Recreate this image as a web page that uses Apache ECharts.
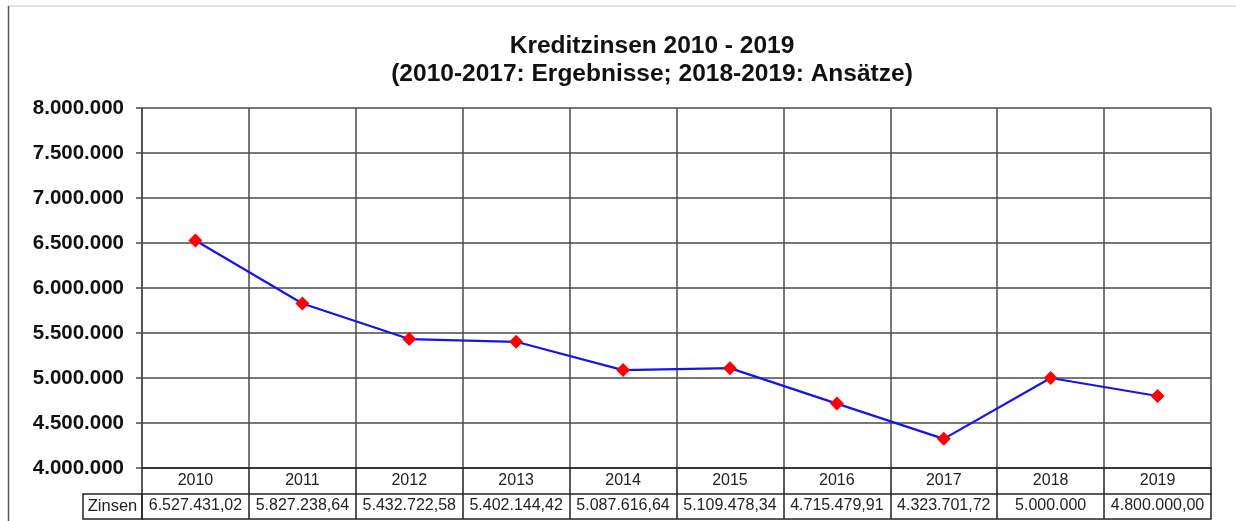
<!DOCTYPE html>
<html>
<head>
<meta charset="utf-8">
<script src="https://cdn.jsdelivr.net/npm/echarts@6/dist/echarts.min.js"></script>
<style>
  html, body { margin: 0; background: #fff; }
  #myLineChart { width: 1236px; height: 521px; }
</style>
</head>
<body>
<div id="myLineChart"></div>
<script>
const years = ['2010', '2011', '2012', '2013', '2014', '2015', '2016', '2017', '2018', '2019'];
const zinsen = [6527431.02, 5827238.64, 5432722.58, 5402144.42, 5087616.64, 5109478.34, 4715479.91, 4323701.72, 5000000, 4800000.00];
const zinsenLabels = ['6.527.431,02', '5.827.238,64', '5.432.722,58', '5.402.144,42', '5.087.616,64',
  '5.109.478,34', '4.715.479,91', '4.323.701,72', '5.000.000', '4.800.000,00'];
const rowName = 'Zinsen';

const font = 'Liberation Sans, Arial, sans-serif';
const gridColor = '#4a4a4a';

function dots(v) {
  return String(Math.round(v)).replace(/\B(?=(\d{3})+(?!\d))/g, '.');
}

let option = {
  animation: false,
  backgroundColor: '#fff',
  textStyle: { fontFamily: font },
  title: {
    text: 'Kreditzinsen 2010 - 2019\n(2010-2017: Ergebnisse; 2018-2019: Ansätze)',
    left: 647,
    top: 27,
    textAlign: 'center',
    textStyle: { fontFamily: font, fontSize: 24.5, fontWeight: 'bold', color: '#111', lineHeight: 28 }
  },
  grid: { left: 142, right: 25, top: 108, bottom: 53, containLabel: false },
  xAxis: [
    {
      type: 'category',
      data: years,
      boundaryGap: true,
      position: 'bottom',
      axisLine: { show: true, lineStyle: { color: '#222', width: 1.5 } },
      axisTick: { show: true, interval: 0, length: 51, lineStyle: { color: '#222', width: 1.5 } },
      splitLine: { show: true, interval: 0, lineStyle: { color: gridColor, width: 1.5 } },
      axisLabel: { interval: 0, margin: 5, fontSize: 16, color: '#222', fontFamily: font }
    },
    {
      type: 'category',
      data: years,
      position: 'bottom',
      offset: 26,
      axisLine: { show: true, lineStyle: { color: '#222', width: 1.5 } },
      axisTick: { show: false },
      axisLabel: {
        interval: 0, margin: 4, fontSize: 16, color: '#222', fontFamily: font,
        formatter: (v, i) => zinsenLabels[i]
      }
    },
    {
      type: 'category',
      data: years,
      position: 'bottom',
      offset: 51,
      axisLine: { show: true, lineStyle: { color: '#222', width: 1.5 } },
      axisTick: { show: false },
      axisLabel: { show: false }
    }
  ],
  yAxis: {
    type: 'value',
    min: 4000000,
    max: 8000000,
    interval: 500000,
    axisLine: { show: true, lineStyle: { color: gridColor, width: 1.5 } },
    axisTick: { show: true, length: 6, lineStyle: { color: gridColor, width: 1.5 } },
    splitLine: { show: true, lineStyle: { color: gridColor, width: 1.5 } },
    axisLabel: {
      margin: 18, fontSize: 20.5, fontWeight: 'bold', color: '#111', fontFamily: font,
      formatter: v => dots(v)
    }
  },
  series: [
    {
      name: rowName,
      type: 'line',
      data: zinsen,
      symbol: 'diamond',
      symbolSize: [14, 14],
      lineStyle: { color: '#1414ee', width: 2.2 },
      itemStyle: { color: '#ff0000' }
    }
  ],
  graphic: [
    { type: 'line', shape: { x1: 8, y1: 6, x2: 1236, y2: 6 }, style: { stroke: '#d8d8d8', lineWidth: 1.5 } },
    { type: 'line', shape: { x1: 8.5, y1: 6, x2: 8.5, y2: 521 }, style: { stroke: '#555', lineWidth: 1.5 } },
    {
      type: 'rect',
      shape: { x: 83, y: 494, width: 59, height: 25 },
      style: { fill: '#fff', stroke: '#222', lineWidth: 1.5 }
    },
    {
      type: 'text',
      x: 112.5, y: 506.5,
      style: { text: rowName, fontSize: 16.5, fontFamily: font, fill: '#222', align: 'center', verticalAlign: 'middle' }
    }
  ]
};

let myChart = echarts.init(document.querySelector('#myLineChart'));
myChart.setOption(option);
</script>
</body>
</html>
